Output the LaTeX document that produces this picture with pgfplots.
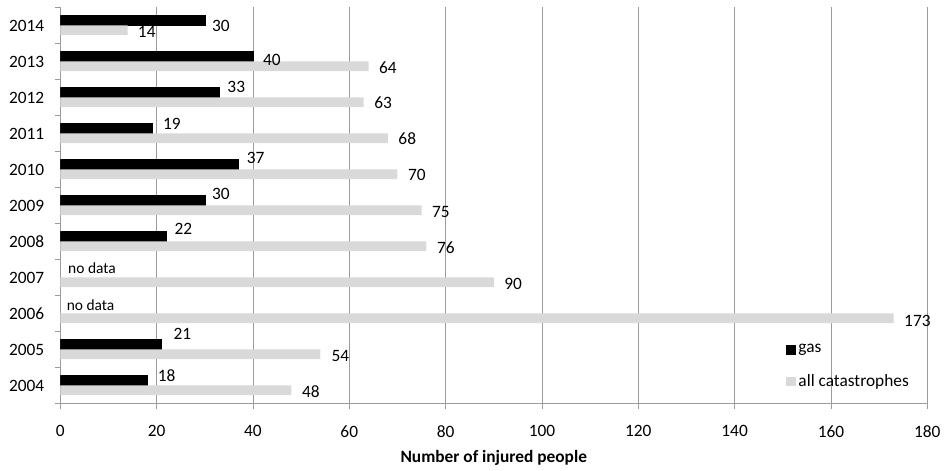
\documentclass[border=0pt]{standalone}
\usepackage{pgfplots}
\usepackage{pgfplotstable}
\pgfplotsset{compat=1.18}
\usepackage{fontspec}
\setmainfont{Carlito}
\usetikzlibrary{calc}
\definecolor{gridc}{RGB}{155,155,155}
\definecolor{lightbar}{RGB}{217,217,217}
% year index: 2004=0 ... 2014=10 ; dx, dy = label offsets (pt)
\pgfplotstableread{
y  v   dx    dy
0  18  8.0   3.75
1  21  9.0   7.9
4  22  6.0   5.6
5  30  5.25  4.9
6  37  6.0   5.25
7  19  8.25  3.6
8  33  6.0   4.3
9  40  7.5   -2.25
10 30  5.25  -3.75
}\gas
\pgfplotstableread{
y  v    dx   dy
0  48   7.8  -1.1
1  54   8.2  -1.3
2  173  7.8  -1.6
3  90   7.8  -1.1
4  76   7.8  -1.1
5  75   7.8  -1.1
6  70   7.8  -0.8
7  68   7.8  -0.5
8  63   7.8  -0.5
9  64   7.8  -1.1
10 14   7.5  -1.3
}\allcat
\begin{document}
\begin{tikzpicture}
\begin{axis}[
  name=a,
  scale only axis,
  width=650.25pt, height=297pt,
  xbar,
  xmin=0, xmax=180,
  ymin=-0.5, ymax=10.5,
  xtick={0,20,...,180},
  ytick={0,...,10},
  yticklabels={2004,2005,2006,2007,2008,2009,2010,2011,2012,2013,2014},
  minor ytick={-0.5,0.5,...,10.5},
  major tick length=4pt,
  minor tick length=4pt,
  tick align=outside,
  x tick style={draw=gridc},
  minor y tick style={draw=gridc},
  major y tick style={draw=none},
  axis x line*=bottom,
  axis y line*=left,
  axis line style={draw=gridc},
  xmajorgrids,
  grid style={draw=gridc, line width=0.6pt},
  tick label style={font=\fontsize{13}{15}\selectfont},
  /pgf/number format/assume math mode=true,
  xlabel={\bfseries Number of injured people},
  xlabel style={font=\fontsize{13}{15}\selectfont, yshift=-3pt},
  xticklabel style={yshift=-9pt},
  yticklabel style={xshift=-4.5pt},
  bar width=7.3pt,
  visualization depends on={\thisrow{dx} \as \dx},
  visualization depends on={\thisrow{dy} \as \dy},
  nodes near coords,
  nodes near coords style={font=\fontsize{13}{15}\selectfont, anchor=west,
    inner sep=0pt, xshift=\dx pt, yshift=\dy pt},
  legend style={draw=none, fill=none, at={(0.837,0.157)}, anchor=north west,
    font=\fontsize{13}{15}\selectfont, row sep=11pt, inner sep=0pt},
  legend cell align=left,
]
\addplot[fill=black, draw=black, bar shift=3.65pt,
  legend image code/.code={\fill[black] (0pt,-3.4pt) rectangle (6.8pt,3.4pt);}]
  table[x=v, y=y] {\gas};
\addplot[fill=lightbar, draw=none, bar shift=-3.65pt,
  legend image code/.code={\fill[lightbar] (0pt,-3.4pt) rectangle (6.8pt,3.4pt);}]
  table[x=v, y=y] {\allcat};
\legend{gas, all catastrophes}
\node[anchor=west, font=\fontsize{11.6}{13}\selectfont, inner sep=0pt] at (axis cs:1.6,3) [yshift=7pt] {no data};
\node[anchor=west, font=\fontsize{11.6}{13}\selectfont, inner sep=0pt] at (axis cs:1.3,2) [yshift=6.5pt] {no data};
\end{axis}
\pgfresetboundingbox
\path ($(a.south west)+(-45.2pt,-50.6pt)$) rectangle ($(a.north east)+(13.3pt,5.6pt)$);
\end{tikzpicture}
\end{document}
